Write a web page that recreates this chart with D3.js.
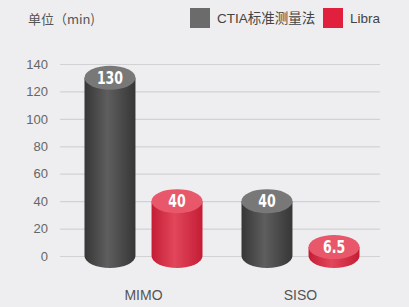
<!DOCTYPE html>
<html lang="zh">
<head>
<meta charset="UTF-8">
<title>Cylinder Bar Chart</title>
<script src="https://d3js.org/d3.v7.min.js"></script>
<style>
    body { margin: 0; background: #eeeef0; }
    svg { display: block; font-family: "Liberation Sans", Arial, "Noto Sans CJK SC", sans-serif; }
</style>
</head>
<body>
<svg id="chart" width="409" height="307"></svg>
<script>
const categories = ["MIMO", "SISO"];
const seriesNames = ["CTIA标准测量法", "Libra"];
const ctiaValues = [130, 40];
const libraValues = [40, 6.5];
const yTicks = [0, 20, 40, 60, 80, 100, 120, 140];
const valueLabels = [["130", "40"], ["40", "6.5"]];

const width = 409, height = 307;
const svg = d3.select("#chart");

const colors = {
    "CTIA标准测量法": { light: "#5e5e5e", dark: "#363636", top: "#787878", legend: "#6b6b6b" },
    "Libra": { light: "#e2465a", dark: "#c41d35", top: "#e8576a", legend: "#e0203c" }
};

const y = d3.scaleLinear().domain([0, 140]).range([256, 64]);
const x0 = d3.scaleBand().domain(categories).range([65, 379]);
const x1 = d3.scaleBand().domain(seriesNames).range([19.5, 137.5]).paddingInner(0.24);

// gradients
const defs = svg.append("defs");
seriesNames.forEach((s, i) => {
    const g = defs.append("linearGradient").attr("id", "grad" + i)
        .attr("x1", "0%").attr("x2", "100%").attr("y1", "0%").attr("y2", "0%");
    g.append("stop").attr("offset", "0%").attr("stop-color", colors[s].dark);
    g.append("stop").attr("offset", "45%").attr("stop-color", colors[s].light);
    g.append("stop").attr("offset", "100%").attr("stop-color", colors[s].dark);
});

// grid
const axis = d3.axisLeft(y).tickValues(yTicks).tickSize(-320).tickPadding(12);
const ga = svg.append("g").attr("transform", "translate(60,0)").call(axis);
ga.select(".domain").remove();
ga.selectAll(".tick line").attr("stroke", "#d2d2d4").attr("stroke-width", 1.2);
ga.selectAll(".tick text").attr("fill", "#666").attr("font-size", 13);

// data rows
const rows = categories.map((c, i) => ({
    cat: c,
    bars: [
        { s: seriesNames[0], v: ctiaValues[i], label: valueLabels[i][0] },
        { s: seriesNames[1], v: libraValues[i], label: valueLabels[i][1] }
    ]
}));

const ry = 12;
const groups = svg.selectAll(".grp").data(rows).enter().append("g")
    .attr("transform", d => `translate(${x0(d.cat)},0)`);

const bars = groups.selectAll(".bar").data(d => d.bars).enter().append("g");

bars.append("path")
    .attr("d", d => {
        const l = x1(d.s), r = l + x1.bandwidth(), rx = x1.bandwidth() / 2;
        const top = y(d.v), base = y(0);
        return `M${l},${top} L${l},${base} A${rx},${ry} 0 0 0 ${r},${base} L${r},${top} Z`;
    })
    .attr("fill", d => `url(#grad${seriesNames.indexOf(d.s)})`);

bars.append("ellipse")
    .attr("cx", d => x1(d.s) + x1.bandwidth() / 2)
    .attr("cy", d => y(d.v))
    .attr("rx", x1.bandwidth() / 2)
    .attr("ry", ry)
    .attr("fill", d => colors[d.s].top);

// condensed white value labels
bars.append("text")
    .attr("transform", d => `translate(${x1(d.s) + x1.bandwidth() / 2},${y(d.v) + 6}) scale(0.82,1)`)
    .attr("text-anchor", "middle")
    .attr("fill", "#fff")
    .attr("font-family", "'DejaVu Sans Condensed', sans-serif")
    .attr("font-weight", "bold")
    .attr("font-size", 17)
    .text(d => d.label);

// category labels
svg.selectAll(".cat").data(categories).enter().append("text")
    .attr("x", d => x0(d) + x0.bandwidth() / 2)
    .attr("y", 300)
    .attr("text-anchor", "middle")
    .attr("fill", "#555")
    .attr("font-size", 14)
    .text(d => d);

// unit
svg.append("text").attr("x", 28).attr("y", 24)
    .attr("fill", "#555").attr("font-size", 13)
    .attr("font-family", "'Noto Sans CJK SC', sans-serif")
    .text("单位（min)");

// legend
const legendX = [190, 323];
const lg = svg.selectAll(".lg").data(seriesNames).enter().append("g")
    .attr("transform", (d, i) => `translate(${legendX[i]},8)`);
lg.append("rect").attr("width", 20).attr("height", 20).attr("fill", d => colors[d].legend);
lg.append("text").attr("x", 27).attr("y", 15)
    .attr("fill", "#444").attr("font-size", 13.5)
    .attr("font-family", "'Liberation Sans', 'Noto Sans CJK SC', sans-serif")
    .text(d => d);
</script>
</body>
</html>
